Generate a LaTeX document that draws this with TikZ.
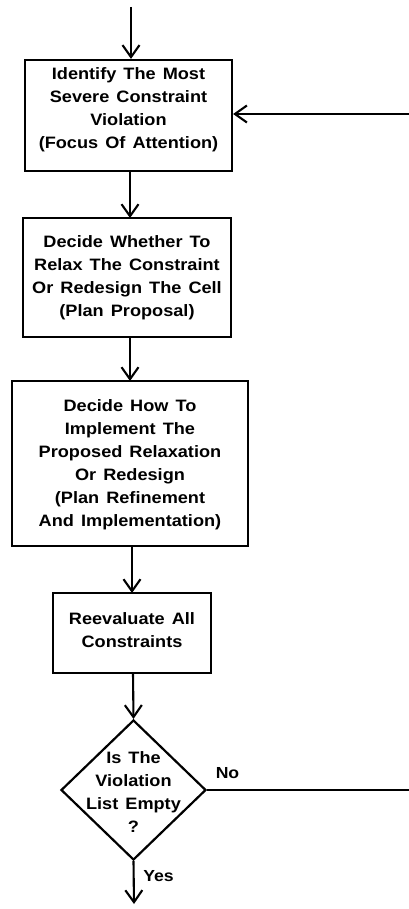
\documentclass[tikz,border=0pt]{standalone}
\usepackage{fontspec}
\setmainfont[FakeStretch=1.1,WordSpace=1.4]{Liberation Sans}
\usetikzlibrary{arrows.meta,shapes.geometric}
\begin{document}
\begin{tikzpicture}[x=1pt,y=-1pt,
  flow/.style={line width=2.1pt,-{Straight Barb[length=12pt,width=17pt,line width=2.1pt]}},
  plain/.style={line width=2.1pt},
  stepbox/.style={draw,line width=2.2pt,rectangle,inner sep=0pt},
  steptext/.style={align=center,inner sep=0pt,font=\bfseries\fontsize{16.5}{23}\selectfont},
  decision/.style={draw,line width=2.2pt,diamond,inner sep=0pt},
  lbl/.style={inner sep=0pt,font=\bfseries\fontsize{16}{18}\selectfont}]
\useasboundingbox (0,0) rectangle (409,909);

% process boxes
\node[stepbox,minimum width=207pt,minimum height=111pt] (focus) at (128.5,115.5) {};
\node[steptext] (focustext) at (128.5,110) {Identify The Most\\Severe Constraint\\Violation\\(Focus Of Attention)};

\node[stepbox,minimum width=208pt,minimum height=119pt] (proposal) at (127,277.5) {};
\node[steptext] (proposaltext) at (127,278) {Decide Whether To\\Relax The Constraint\\Or Redesign The Cell\\(Plan Proposal)};

\node[stepbox,minimum width=236pt,minimum height=165pt] (refine) at (130,463.5) {};
\node[steptext] (refinetext) at (130,465) {Decide How To\\Implement The\\Proposed Relaxation\\Or Redesign\\(Plan Refinement\\And Implementation)};

\node[stepbox,minimum width=158pt,minimum height=80pt] (reeval) at (132,633) {};
\node[steptext] (reevaltext) at (132,630) {Reevaluate All\\Constraints};

% decision
\node[decision,minimum width=145pt,minimum height=140pt] (check) at (133.5,790) {};
\node[steptext] (checktext) at (133.5,792) {Is The\\Violation\\List Empty\\?};

% free ends
\coordinate (start) at (131,7);
\coordinate (finish) at (134,904);
\coordinate (loopbottom) at (412,790);
\coordinate (looptop) at (412,114);

% connectors
\draw[flow] (start) -- (start |- focus.north);
\draw[flow] (130,171) -- (130,218);
\draw[flow] (130,337) -- (130,381);
\draw[flow] (132,546) -- (132,593);
\draw[flow] (133,673) -- (check.north);
\draw[flow] (check.south) -- (finish);
\draw[plain] (check.east) -- (loopbottom) -- (looptop);
\draw[flow] (looptop) -- (focus.east |- looptop);

% branch labels
\node[lbl] (nolabel) at (227.5,773) {No};
\node[lbl] (yeslabel) at (158.5,876) {Yes};
\end{tikzpicture}
\end{document}
